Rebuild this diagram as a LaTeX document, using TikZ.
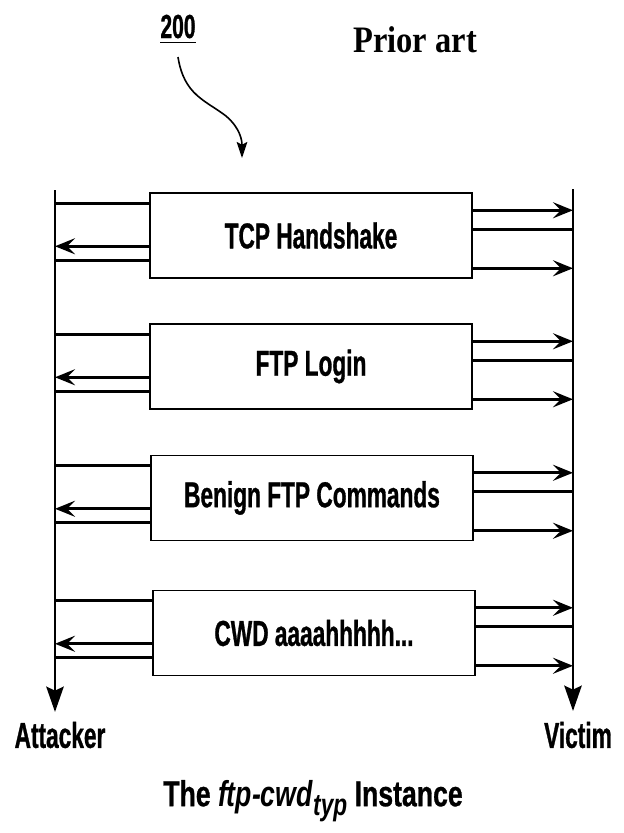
\documentclass[tikz,border=0pt]{standalone}
\usepackage{fontspec}
\setmainfont{Liberation Sans}[FakeStretch=0.63,BoldFeatures={FakeBold=0.8}]
\newfontfamily\capfont{Liberation Sans}[FakeStretch=0.74,BoldFeatures={FakeBold=0.8}]
\newfontfamily\priorfont{Liberation Serif}[FakeStretch=0.87]
\usetikzlibrary{arrows.meta,calc}
\tikzset{
  box/.style={draw,line width=1.1pt,minimum width=241.5pt,minimum height=63.75pt,inner sep=0pt,
    font=\bfseries\fontsize{27}{30}\selectfont},
  life/.style={line width=2.2pt,-{Stealth[length=19pt,width=13pt,inset=3pt]}},
  msg/.style={line width=2.2pt},
  msgarrow/.style={line width=2.2pt,-{Stealth[length=15pt,width=12pt,inset=6pt]}},
  lbl/.style={font=\bfseries\fontsize{27}{30}\selectfont,inner sep=0pt},
}
\begin{document}
\begin{tikzpicture}[x=0.75pt,y=-0.75pt]
\useasboundingbox (0,0) rectangle (624,833);
% title
\node[font=\priorfont\bfseries\fontsize{28}{32}\selectfont,anchor=base west,inner sep=0pt] (prior) at (353,52) {Prior art};
\node[lbl,anchor=base,font=\bfseries\fontsize{25}{28}\selectfont] (num) at (178,38) {200};
\draw[line width=1.1pt] ($(num.south west)+(0,4)$) -- ($(num.south east)+(0,4)$);
\coordinate (ctip) at (242,158);
\draw[line width=1.2pt,-{Stealth[length=12pt,width=8pt,inset=2pt]}] (178,57) .. controls (184,95) and (205,100) .. (226,116) .. controls (240,128) and (242,140) .. (ctip);
% lifelines
\coordinate (Ltop) at (55,190);
\coordinate (Lbot) at (57,712);
\coordinate (Rtop) at (573,189);
\coordinate (Rbot) at (575,711);
\draw[life] (Ltop) -- (Ltop |- Lbot);
\draw[life] (Rtop) -- (Rtop |- Rbot);
% boxes
\node[box] (b1) at (311,235.5) {TCP Handshake};
\node[box] (b2) at (311,366.5) {FTP Login};
\node[box] (b3) at (312,498) {Benign FTP Commands};
\node[box] (b4) at (314,633) {CWD aaaahhhhh...};
% messages
\foreach \b in {b1,b2,b3,b4}{
  \path ($(\b.north west)+(0,11)$) coordinate (l1)
        ($(\b.north west)+(0,54)$) coordinate (l2)
        ($(\b.north west)+(0,68)$) coordinate (l3)
        ($(\b.north east)+(0,18)$) coordinate (r1)
        ($(\b.north east)+(0,37)$) coordinate (r2)
        ($(\b.north east)+(0,76)$) coordinate (r3);
  \draw[msg] (l1) -- (l1 -| Ltop);
  \draw[msgarrow] (l2) -- (l2 -| Ltop);
  \draw[msg] (l3) -- (l3 -| Ltop);
  \draw[msgarrow] (r1) -- (r1 -| Rtop);
  \draw[msg] (r2) -- (r2 -| Rtop);
  \draw[msgarrow] (r3) -- (r3 -| Rtop);
}
% labels
\node[lbl] (att) at (60,735) {Attacker};
\node[lbl] (vic) at (578,735) {Victim};
\node[lbl,font=\capfont\bfseries\fontsize{27}{30}\selectfont] (cap) at (313,801) {The \textit{ftp-cwd}\raisebox{-7pt}{\fontsize{23}{26}\selectfont\textit{typ}} Instance};
\end{tikzpicture}
\end{document}
